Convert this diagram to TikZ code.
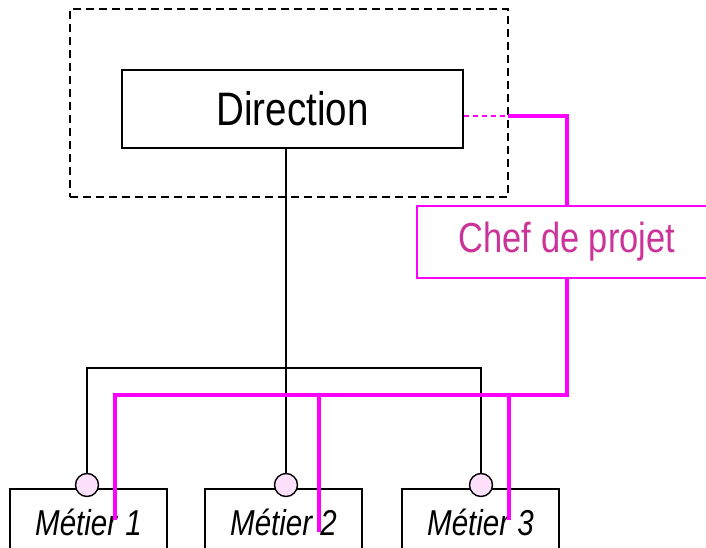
\documentclass[tikz,border=0pt]{standalone}
\usepackage{fontspec}
\setmainfont{Liberation Sans}[FakeStretch=0.82]
\definecolor{mag}{HTML}{FF00FF}
\definecolor{chefink}{HTML}{CC3399}
\definecolor{knob}{HTML}{FDE0FC}
\begin{document}
\begin{tikzpicture}[x=1pt,y=-1pt,
  blackbox/.style={draw=black,line width=1.6pt,fill=white,inner sep=0pt},
  unitbox/.style={blackbox,minimum width=157pt,minimum height=66pt,
    font=\fontsize{36}{40}\selectfont\itshape},
  knobnode/.style={circle,draw=black,line width=1.4pt,fill=knob,minimum size=23pt,inner sep=0pt},
  blk/.style={draw=black,line width=1.6pt},
  magline/.style={draw=mag,line width=3.2pt},
  magdash/.style={draw=mag,line width=1.4pt,dash pattern=on 5pt off 4pt}]
\clip (0,0) rectangle (706,548);
\fill[white] (0,0) rectangle (706,548);

% group frame around the management box
\node[draw=black,line width=1.5pt,dash pattern=on 8pt off 5pt,
      minimum width=438pt,minimum height=188pt,inner sep=0pt] (grp) at (289,103) {};

% management box
\node[blackbox,minimum width=341pt,minimum height=78pt,
      font=\fontsize{47}{50}\selectfont] (dir) at (292.5,109) {Direction};

% project lead box
\node[draw=mag,line width=1.8pt,fill=white,minimum width=300pt,minimum height=72pt,
      inner sep=0pt,text=chefink,font=\fontsize{42}{46}\selectfont] (chef) at (567,242) {Chef de projet};

% business units
\node[unitbox] (u1) at (88.5,522) {Métier 1};
\node[unitbox] (u2) at (283.5,522) {Métier 2};
\node[unitbox] (u3) at (480.5,522) {Métier 3};

% attachment knobs
\node[knobnode] (k1) at (87,485) {};
\node[knobnode] (k2) at (286,485) {};
\node[knobnode] (k3) at (481,485) {};

% hierarchical links
\coordinate (hub) at (286,368);
\draw[blk] (dir.south -| k2) -- (k2.north);
\draw[blk] (k1.north) |- (hub) -| (k3.north);

% project links
\coordinate (dp) at (508,116);
\coordinate (mbus) at (567,395);
\coordinate (m1) at (115,520);
\coordinate (m2) at (319,532);
\coordinate (m3) at (509,520);
\draw[magdash] (dir.east |- dp) -- (dp);
\draw[magline] (dp) -| (chef.north);
\draw[magline] (chef.south) -- (mbus) -| (m1);
\draw[magline] (m2 |- mbus) -- (m2);
\draw[magline] (m3 |- mbus) -- (m3);
\end{tikzpicture}
\end{document}
